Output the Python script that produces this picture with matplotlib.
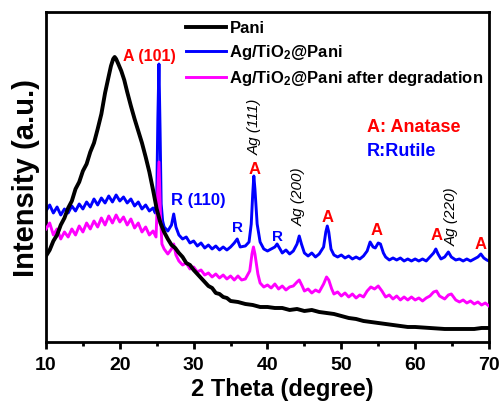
import matplotlib
matplotlib.use("Agg")
import matplotlib.pyplot as plt

plt.rcParams['font.family'] = ['Liberation Sans', 'DejaVu Sans']
plt.rcParams['font.weight'] = 'bold'
plt.rcParams['mathtext.fontset'] = 'custom'
plt.rcParams['mathtext.rm'] = 'Liberation Sans:bold'
plt.rcParams['mathtext.bf'] = 'Liberation Sans:bold'
plt.rcParams['mathtext.default'] = 'rm'

# Pani
pani_x = [10.0, 10.5, 11.0, 11.5, 12.0, 12.5, 13.0, 13.5, 14.0, 14.5, 15.0, 15.5,
          16.0, 16.5, 17.0, 17.5, 18.0, 18.5, 18.8, 19.1, 19.3, 19.5, 19.8, 20.2,
          20.6, 21.0, 21.5, 22.0, 22.5, 23.0, 23.5, 24.0, 24.5, 25.0, 25.5, 26.0,
          26.5, 27.0, 27.5, 28.0, 28.5, 29.0, 29.5, 30.0, 30.5, 31.0, 31.5, 32.0,
          32.5, 33.0, 33.5, 34.0, 34.5, 35.0, 36.0, 37.0, 38.0, 39.0, 40.0, 41.0,
          42.0, 43.0, 44.0, 45.0, 46.0, 47.0, 48.0, 49.0, 50.0, 51.0, 52.0, 53.0,
          54.0, 55.0, 56.0, 57.0, 58.0, 59.0, 60.0, 62.0, 64.0, 66.0, 68.0, 69.0, 70.0]
pani_y = [86, 92, 101, 107, 117, 124, 134, 141, 153, 160, 171, 178,
          190, 199, 213, 228, 249, 266, 276, 283, 285, 283, 278, 271,
          262, 250, 236, 223, 211, 199, 185, 170, 152, 133, 119, 110,
          103, 97, 94, 89, 85, 79, 77, 72, 68, 64, 60, 56,
          54, 49, 48, 45, 44, 41, 40, 38, 37, 35, 35, 34,
          34, 32, 33, 31, 32, 30, 29, 28, 26, 24, 23, 21,
          20, 19, 18, 17, 16, 15, 15, 14, 13, 13, 13, 14, 14]

# Ag/TiO2@Pani
comp_x = [10.0, 10.5, 11.0, 11.5, 12.0, 12.5, 13.0, 13.5, 14.0, 14.5, 15.0, 15.5,
          16.0, 16.5, 17.0, 17.5, 18.0, 18.5, 19.0, 19.5, 20.0, 20.5, 21.0, 21.5,
          22.0, 22.5, 23.0, 23.5, 24.0, 24.5, 24.8, 25.0, 25.15, 25.3, 25.45, 25.6,
          25.8, 26.0, 26.5, 27.0, 27.3, 27.6, 28.0, 28.5, 29.0, 29.5, 30.0, 30.5,
          31.0, 31.5, 32.0, 32.5, 33.0, 33.5, 34.0, 34.5, 35.0, 35.5, 35.9, 36.3,
          37.0, 37.5, 37.8, 38.0, 38.15, 38.3, 38.6, 39.0, 39.5, 40.0, 40.5, 41.0,
          41.3, 41.7, 42.0, 42.5, 43.0, 43.5, 44.0, 44.3, 44.6, 45.0, 45.5, 46.0,
          46.5, 47.0, 47.6, 47.9, 48.1, 48.3, 48.6, 49.0, 49.5, 50.0, 50.5, 51.0,
          51.5, 52.0, 52.5, 53.0, 53.5, 53.9, 54.3, 54.6, 55.0, 55.3, 55.7, 56.0,
          56.5, 57.0, 57.5, 58.0, 58.5, 59.0, 59.5, 60.0, 60.5, 61.0, 61.5, 62.0,
          62.5, 62.8, 63.1, 63.5, 64.0, 64.5, 64.9, 65.5, 66.0, 66.5, 67.0, 67.5,
          68.0, 68.5, 68.9, 69.3, 69.7, 70.0]
comp_y = [131, 137, 129, 135, 127, 133, 129, 136, 131, 138, 133, 140,
          135, 143, 137, 144, 139, 146, 140, 147, 141, 145, 139, 143,
          136, 140, 133, 137, 131, 134, 129, 143, 223, 278, 213, 138,
          121, 115, 111, 117, 128, 115, 107, 103, 105, 99, 101, 96,
          99, 94, 97, 93, 96, 92, 95, 92, 95, 99, 103, 95,
          96, 100, 118, 148, 166, 153, 118, 100, 93, 91, 93, 95,
          98, 93, 89, 92, 88, 91, 98, 106, 98, 89, 86, 89,
          85, 88, 95, 110, 116, 110, 93, 87, 85, 87, 84, 86,
          83, 85, 83, 86, 91, 100, 95, 94, 99, 98, 89, 85,
          82, 84, 82, 84, 81, 83, 81, 83, 81, 83, 81, 85,
          89, 93, 88, 83, 85, 90, 85, 82, 83, 81, 83, 81,
          83, 85, 88, 84, 82, 81]

# Ag/TiO2@Pani after degradation
deg_x = [10.0, 10.5, 11.0, 11.5, 12.0, 12.5, 13.0, 13.5, 14.0, 14.5, 15.0, 15.5,
         16.0, 16.5, 17.0, 17.5, 18.0, 18.5, 19.0, 19.5, 20.0, 20.5, 21.0, 21.5,
         22.0, 22.5, 23.0, 23.5, 24.0, 24.5, 24.9, 25.1, 25.3, 25.5, 25.7, 26.0,
         26.5, 27.0, 27.3, 27.6, 28.0, 28.5, 29.0, 29.5, 30.0, 30.5, 31.0, 31.5,
         32.0, 32.5, 33.0, 33.5, 34.0, 34.5, 35.0, 35.5, 36.0, 36.5, 37.0, 37.6,
         37.9, 38.1, 38.3, 38.7, 39.0, 39.5, 40.0, 40.5, 41.0, 41.5, 42.0, 42.5,
         43.0, 43.5, 44.0, 44.3, 44.7, 45.0, 45.5, 46.0, 46.5, 47.0, 47.6, 48.0,
         48.3, 48.7, 49.0, 49.5, 50.0, 50.5, 51.0, 51.5, 52.0, 52.5, 53.0, 53.5,
         54.0, 54.5, 55.0, 55.5, 56.0, 56.5, 57.0, 57.5, 58.0, 58.5, 59.0, 59.5,
         60.0, 60.5, 61.0, 61.5, 62.0, 62.5, 62.9, 63.3, 64.0, 64.5, 64.9, 65.5,
         66.0, 66.5, 67.0, 67.5, 68.0, 68.5, 69.0, 69.5, 70.0]
deg_y = [113, 119, 107, 113, 103, 110, 105, 113, 107, 116, 110, 119,
         113, 121, 115, 124, 117, 126, 119, 127, 120, 125, 117, 123,
         114, 119, 110, 115, 107, 111, 105, 143, 180, 128, 98, 93,
         88, 93, 98, 87, 81, 77, 79, 73, 75, 70, 72, 67,
         69, 65, 68, 64, 67, 63, 66, 62, 66, 62, 63, 71,
         88, 95, 88, 68, 59, 55, 57, 54, 58, 53, 56, 52,
         55, 56, 60, 62, 56, 51, 53, 49, 52, 50, 58, 65,
         62, 53, 48, 50, 46, 49, 45, 48, 44, 47, 45, 51,
         55, 53, 56, 51, 45, 47, 43, 46, 42, 45, 42, 45,
         42, 44, 41, 44, 46, 50, 51, 46, 43, 47, 48, 42,
         40, 42, 39, 41, 38, 40, 37, 39, 36]

legend_labels = ['Pani', 'Ag/TiO$_2$@Pani', 'Ag/TiO$_2$@Pani after degradation']
xticks = [10, 20, 30, 40, 50, 60, 70]

fig = plt.figure(figsize=(5.01, 4.02), dpi=100)
ax = fig.add_axes([0.0918, 0.1468, 0.8842, 0.8209])

ax.plot(comp_x, comp_y, color='#0000ff', lw=2.1, zorder=2, label=legend_labels[1])
ax.plot(deg_x, deg_y, color='#ff00ff', lw=2.1, zorder=3, label=legend_labels[2])
ax.plot(pani_x, pani_y, color='black', lw=2.8, zorder=4, label=legend_labels[0])

ax.set_xlim(10, 70)
ax.set_ylim(0, 330)
ax.set_xticks(xticks)
ax.set_xticks([15, 25, 35, 45, 55, 65], minor=True)
ax.set_yticks([])
ax.tick_params(axis='x', which='major', direction='out', length=5, width=2,
               labelsize=14, pad=5)
ax.tick_params(axis='x', which='minor', direction='out', length=3, width=2)
for lab in ax.get_xticklabels():
    lab.set_fontweight('bold')
for sp in ax.spines.values():
    sp.set_linewidth(2)

ax.set_xlabel('2 Theta (degree)', fontsize=17, fontweight='bold')
ax.xaxis.set_label_coords(0.533, -0.106)
ax.set_ylabel('Intensity (a.u.)', fontsize=21, fontweight='bold', labelpad=4)

handles, labels = ax.get_legend_handles_labels()
order = [2, 0, 1]
ax.legend([handles[i] for i in order], [labels[i] for i in order],
          loc='upper left', bbox_to_anchor=(0.29, 1.01), frameon=False,
          prop={'size': 12, 'weight': 'bold'}, handlelength=2.4,
          handletextpad=0.2, labelspacing=0.42, borderaxespad=0.3)

red = '#ff0000'
blue = '#0000ff'
ax.text(24.0, 286, 'A (101)', color=red, fontsize=11.5, fontweight='bold',
        ha='center', va='center')
ax.text(30.6, 142, 'R (110)', color=blue, fontsize=12, fontweight='bold',
        ha='center', va='center')
ax.text(35.9, 115, 'R', color=blue, fontsize=11, fontweight='bold', ha='center', va='center')
ax.text(41.3, 106, 'R', color=blue, fontsize=11, fontweight='bold', ha='center', va='center')
for xa, ya in [(38.2, 173), (48.1, 125), (54.8, 112), (62.9, 107), (68.8, 98)]:
    ax.text(xa, ya, 'A', color=red, fontsize=12, fontweight='bold', ha='center', va='center')
for xa, ya, t in [(38.3, 216, 'Ag (111)'), (44.2, 146, 'Ag (200)'), (65.0, 126, 'Ag (220)')]:
    ax.text(xa, ya, t, color='black', fontsize=11, fontstyle='italic', fontweight='normal',
            rotation=90, ha='center', va='center')
ax.text(53.5, 215, 'A: Anatase', color=red, fontsize=13, fontweight='bold',
        ha='left', va='center')
ax.text(53.5, 191, 'R:Rutile', color=blue, fontsize=13, fontweight='bold',
        ha='left', va='center')

fig.savefig('out.png', dpi=100)
